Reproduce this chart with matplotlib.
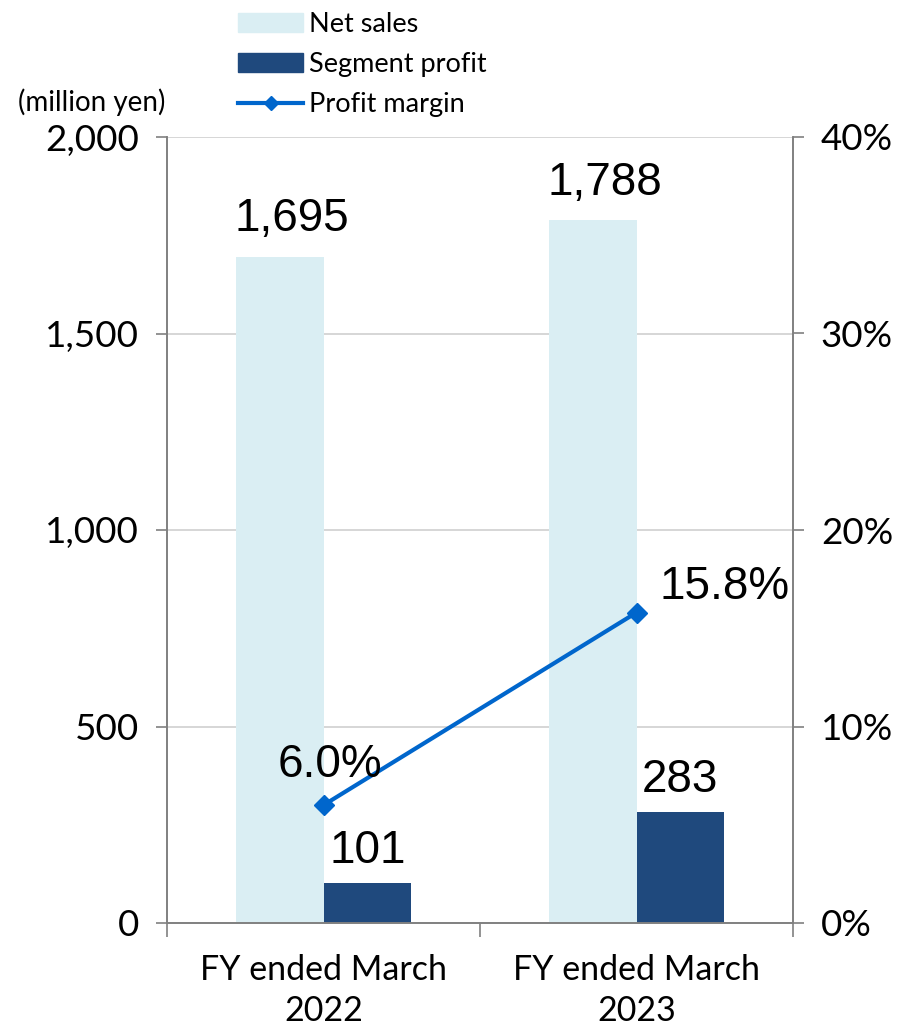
import matplotlib.pyplot as plt
import matplotlib.ticker as mtick
from matplotlib.lines import Line2D
from matplotlib.patches import Patch
import numpy as np

# Données
categories = ['FY ended March\n2022', 'FY ended March\n2023']
ventes = [1695, 1788]
profit = [101, 283]
marge = [6.0, 15.8]

c_ventes = '#DAEEF3'
c_profit = '#1F497D'
c_marge = '#0066CC'

plt.rcParams['font.family'] = ['Lato', 'DejaVu Sans']

fig = plt.figure(figsize=(8.98, 10.32), dpi=100)
ax = fig.add_axes([167/898, 1-923/1032, (793-167)/898, (923-137)/1032])
ax2 = ax.twinx()

x = np.arange(len(categories))
w = 0.28
ax.bar(x - w/2, ventes, w, color=c_ventes, zorder=2)
ax.bar(x + w/2, profit, w, color=c_profit, zorder=2)

ax.set_xlim(-0.5, 1.5)
ax.set_ylim(0, 2000)
ax.set_yticks([0, 500, 1000, 1500, 2000])
ax.yaxis.set_major_formatter(mtick.StrMethodFormatter('{x:,.0f}'))
ax.grid(axis='y', color='#D0D0D0', lw=1.2, zorder=0)
ax.set_axisbelow(True)

ax2.plot(x, marge, '-D', color=c_marge, lw=3, ms=10, zorder=3)
ax2.set_ylim(0, 40)
ax2.set_yticks([0, 10, 20, 30, 40])
ax2.yaxis.set_major_formatter(mtick.FuncFormatter(lambda v, p: f'{v:.0f}%'))

# axe des x : ticks aux limites des catégories
ax.set_xticks([-0.5, 0.5, 1.5], minor=False)
ax.set_xticklabels([])
ax.set_xticks(x, minor=True)
ax.set_xticklabels(categories, minor=True, fontsize=24.5, linespacing=1.35)
ax.tick_params(axis='x', which='major', length=10, width=1.2, color='#808080', direction='out')
ax.tick_params(axis='x', which='minor', length=0, pad=22)
ax.tick_params(axis='y', length=8, width=1.2, color='#808080', labelsize=26.5, pad=12)
ax2.tick_params(axis='y', length=8, width=1.2, color='#808080', labelsize=26.5, pad=12)

for a in (ax, ax2):
    a.spines['top'].set_visible(False)
    for s in ('left', 'right', 'bottom'):
        a.spines[s].set_color('#808080')
        a.spines[s].set_linewidth(1.2)

# étiquettes de valeurs
lab = dict(family=['Liberation Sans', 'DejaVu Sans'], fontsize=33, ha='center', va='bottom')
for i in range(len(x)):
    ax.text(x[i] - w/2 + 0.04, ventes[i] + 40, f'{ventes[i]:,}', **lab)
    ax.text(x[i] + w/2, profit[i] + 25, f'{profit[i]:,}', **lab)
ax2.text(x[0] + 0.02, marge[0] + 0.9, f'{marge[0]:.1f}%', **lab)
ax2.text(x[1] + 0.28, marge[1] + 0.2, f'{marge[1]:.1f}%', **lab)

# légende
handles = [Patch(color=c_ventes), Patch(color=c_profit),
           Line2D([], [], color=c_marge, lw=3, marker='D', ms=7)]
fig.legend(handles, ['Net sales', 'Segment profit', 'Profit margin'],
           loc='upper left', bbox_to_anchor=(226/898, 1.0), frameon=False,
           fontsize=19.5, handlelength=2.4, handletextpad=0.2, labelspacing=0.55,
           borderaxespad=0.05)

fig.text(18/898, 1-102/1032, '(million yen)', fontsize=20, va='center', ha='left')

fig.savefig('out.png', dpi=100)
